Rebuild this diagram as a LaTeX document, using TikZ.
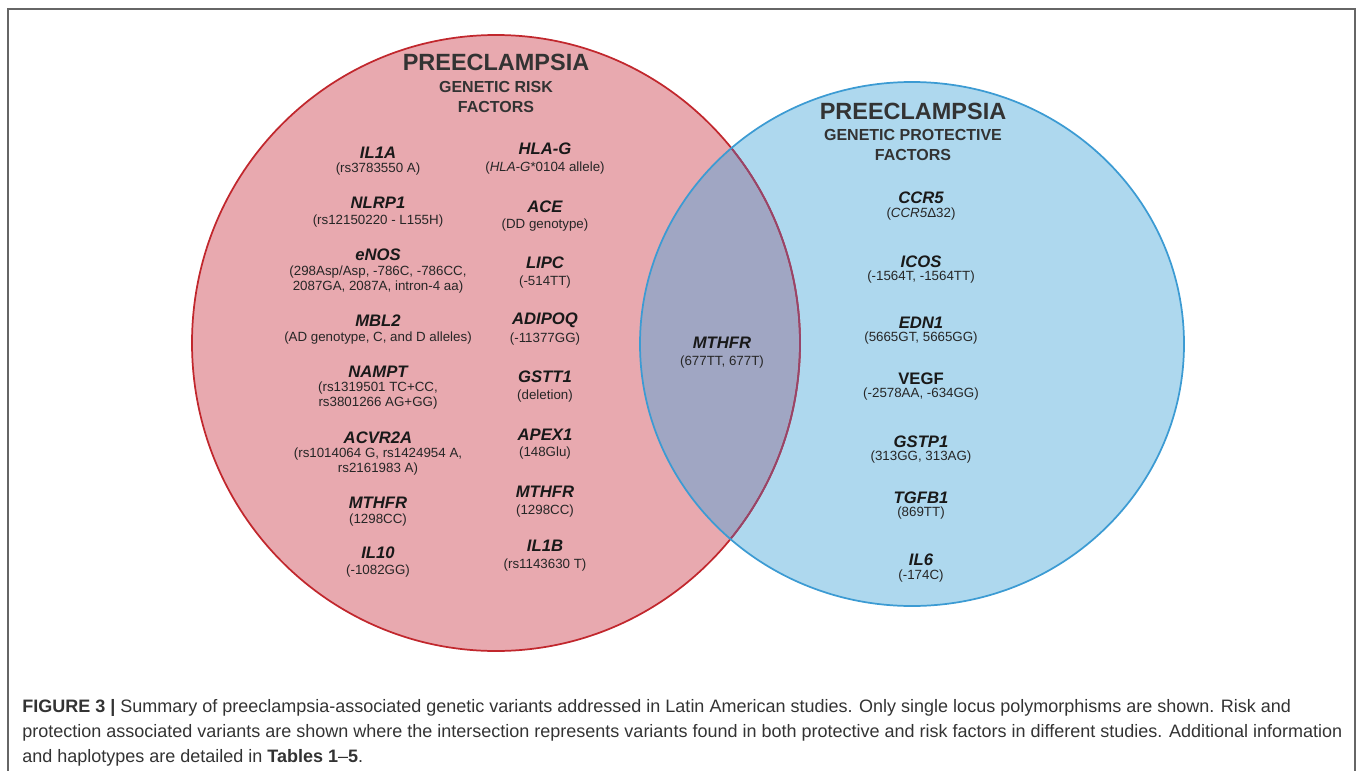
\documentclass[tikz,border=0pt]{standalone}
\usepackage{fontspec}
\setmainfont{Liberation Sans}
\usepackage{tikz}

\definecolor{riskfill}{HTML}{E8A9AF}
\definecolor{riskline}{HTML}{C1272D}
\definecolor{protfill}{HTML}{AED8EE}
\definecolor{protline}{HTML}{3C9BD3}
\definecolor{bothfill}{HTML}{A0A6C3}
\definecolor{bothline}{HTML}{97456A}

\begin{document}
\begin{tikzpicture}[x=0.75pt, y=-0.75pt]
        \tikzstyle{gene} = [font=\fontsize{12.5}{15}\selectfont\bfseries\itshape, text=black!90, inner sep=0pt]
        \tikzstyle{variant} = [font=\fontsize{10}{11.25}\selectfont, text=black!85, align=center, inner sep=0pt]
        \tikzstyle{title} = [font=\fontsize{17.6}{20}\selectfont\bfseries, text=black!80, inner sep=0pt]
        \tikzstyle{subtitle} = [font=\fontsize{12}{14.5}\selectfont\bfseries, text=black!80, align=center, inner sep=0pt]
        \tikzstyle{caption} = [font=\fontsize{13.5}{18.75}\selectfont, text=black!80, align=left, inner sep=0pt]
        \useasboundingbox (0,0) rectangle (1357,771);
        % frame, open at the bottom
        \draw[black!60, line width=1.4pt] (8,775) -- (8,9) -- (1355,9) -- (1355,775);
        % the two sets
        \coordinate (riskc) at (496,343);
        \coordinate (protc) at (912,344);
        \fill[riskfill] (riskc) ellipse [x radius=304, y radius=308];
        \fill[protfill] (protc) ellipse [x radius=272, y radius=262];
        \begin{scope}
            \clip (riskc) ellipse [x radius=304, y radius=308];
            \fill[bothfill] (protc) ellipse [x radius=272, y radius=262];
        \end{scope}
        \draw[riskline, line width=1.3pt] (riskc) ellipse [x radius=304, y radius=308];
        \begin{scope}
            \clip (protc) ellipse [x radius=272, y radius=262];
            \draw[bothline, line width=1.3pt] (riskc) ellipse [x radius=304, y radius=308];
        \end{scope}
        \draw[protline, line width=1.3pt] (protc) ellipse [x radius=272, y radius=262];
        % risk factors
        \node[title] (risktitle) at (496,62) {PREECLAMPSIA};
        \node[subtitle] (risksub) at (496,97) {GENETIC RISK\\FACTORS};
        \node[gene] (il1a) at (378,153) {IL1A};
        \node[variant] (il1av) at (378,169) {(rs3783550 A)};
        \node[gene] (nlrp1) at (378,203) {NLRP1};
        \node[variant] (nlrp1v) at (378,221) {(rs12150220 - L155H)};
        \node[gene] (enos) at (378,255) {eNOS};
        \node[variant] (enosv) at (378,280) {(298Asp/Asp, -786C, -786CC,\\2087GA, 2087A, intron-4 aa)};
        \node[gene] (mbl2) at (378,321) {MBL2};
        \node[variant] (mbl2v) at (378,338) {(AD genotype, C, and D alleles)};
        \node[gene] (nampt) at (378,372) {NAMPT};
        \node[variant] (namptv) at (378,396) {(rs1319501 TC+CC,\\rs3801266 AG+GG)};
        \node[gene] (acvr2a) at (378,438) {ACVR2A};
        \node[variant] (acvr2av) at (378,462) {(rs1014064 G, rs1424954 A,\\rs2161983 A)};
        \node[gene] (mthfra) at (378,503) {MTHFR};
        \node[variant] (mthfrav) at (378,520) {(1298CC)};
        \node[gene] (il10) at (378,553) {IL10};
        \node[variant] (il10v) at (378,571) {(-1082GG)};
        \node[gene] (hlag) at (545,149) {HLA-G};
        \node[variant] (hlagv) at (545,168) {(\textit{HLA-G}*0104 allele)};
        \node[gene] (ace) at (545,207) {ACE};
        \node[variant] (acev) at (545,225) {(DD genotype)};
        \node[gene] (lipc) at (545,263) {LIPC};
        \node[variant] (lipcv) at (545,282) {(-514TT)};
        \node[gene] (adipoq) at (545,320) {ADIPOQ};
        \node[variant] (adipoqv) at (545,339) {(-11377GG)};
        \node[gene] (gstt1) at (545,377) {GSTT1};
        \node[variant] (gstt1v) at (545,396) {(deletion)};
        \node[gene] (apex1) at (545,435) {APEX1};
        \node[variant] (apex1v) at (545,453) {(148Glu)};
        \node[gene] (mthfrb) at (545,492) {MTHFR};
        \node[variant] (mthfrbv) at (545,511) {(1298CC)};
        \node[gene] (il1b) at (545,546) {IL1B};
        \node[variant] (il1bv) at (545,565) {(rs1143630 T)};
        % both
        \node[gene] (mthfrc) at (722,343) {MTHFR};
        \node[variant] (mthfrcv) at (722,362) {(677TT, 677T)};
        % protective factors
        \node[title] (prottitle) at (913,111) {PREECLAMPSIA};
        \node[subtitle] (protsub) at (913,145) {GENETIC PROTECTIVE\\FACTORS};
        \node[gene] (ccr5) at (921,198) {CCR5};
        \node[variant] (ccr5v) at (921,214) {(\textit{CCR5}Δ32)};
        \node[gene] (icos) at (921,262) {ICOS};
        \node[variant] (icosv) at (921,277) {(-1564T, -1564TT)};
        \node[gene] (edn1) at (921,323) {EDN1};
        \node[variant] (edn1v) at (921,338) {(5665GT, 5665GG)};
        \node[gene, font=\fontsize{12.5}{15}\selectfont\bfseries] (vegf) at (921,379) {VEGF};
        \node[variant] (vegfv) at (921,394) {(-2578AA, -634GG)};
        \node[gene] (gstp1) at (921,442) {GSTP1};
        \node[variant] (gstp1v) at (921,457) {(313GG, 313AG)};
        \node[gene] (tgfb1) at (921,498) {TGFB1};
        \node[variant] (tgfb1v) at (921,513) {(869TT)};
        \node[gene] (il6) at (921,560) {IL6};
        \node[variant] (il6v) at (921,576) {(-174C)};
        % caption
        \node[caption, anchor=west] (cap) at (22,733) {\textbf{FIGURE 3 |} Summary of preeclampsia-associated genetic variants addressed in Latin American studies. Only single locus polymorphisms are shown. Risk and\\protection associated variants are shown where the intersection represents variants found in both protective and risk factors in different studies. Additional information\\and haplotypes are detailed in \textbf{Tables 1}–\textbf{5}.};
    \end{tikzpicture}
\end{document}
